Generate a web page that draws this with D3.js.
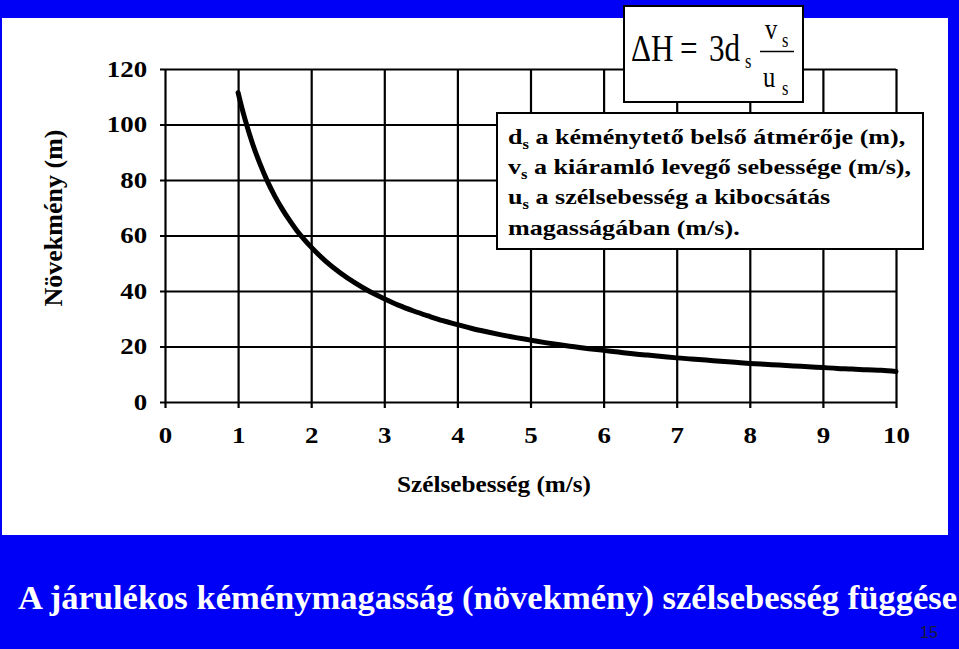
<!DOCTYPE html>
<html>
<head>
<meta charset="utf-8">
<script src="https://cdn.jsdelivr.net/npm/d3@7"></script>
<style>
  body { margin: 0; background: #0000f6; }
  svg { display: block; }
</style>
</head>
<body>
<script>
// wind speed (m/s) and plume rise (m)
const windSpeed = [1.0, 1.05, 1.1, 1.2, 1.3, 1.4, 1.5, 1.6, 1.7, 1.8, 1.9,
  2.0, 2.2, 2.4, 2.6, 2.8, 3.0, 3.2, 3.4, 3.6, 3.8, 4.0, 4.2, 4.4, 4.6, 4.8,
  5.0, 5.2, 5.4, 5.6, 5.8, 6.0, 6.2, 6.4, 6.6, 6.8, 7.0, 7.2, 7.4, 7.6, 7.8,
  8.0, 8.2, 8.4, 8.6, 8.8, 9.0, 9.2, 9.4, 9.6, 9.8, 10.0];
const heightGain = [111.5, 106.2, 101.4, 92.9, 85.8, 79.6, 74.3, 69.7, 65.6, 61.9, 58.7,
  55.8, 50.7, 46.5, 42.9, 39.8, 37.2, 34.8, 32.8, 31.0, 29.3, 27.9, 26.5, 25.3, 24.2, 23.2,
  22.3, 21.4, 20.6, 19.9, 19.2, 18.6, 18.0, 17.4, 16.9, 16.4, 15.9, 15.5, 15.1, 14.7, 14.3,
  13.9, 13.6, 13.3, 13.0, 12.7, 12.4, 12.1, 11.9, 11.6, 11.4, 11.0];

const xTicks = [0, 1, 2, 3, 4, 5, 6, 7, 8, 9, 10];
const yTicks = [0, 20, 40, 60, 80, 100, 120];

const xTitle = "Szélsebesség (m/s)";
const yTitle = "Növekmény (m)";
const slideTitle = "A járulékos kéménymagasság (növekmény) szélsebesség függése";
const pageNo = "15";

// [symbol, subscript, rest of line]
const noteLines = [
  ["d", "s", " a kéménytető belső átmérője (m),"],
  ["v", "s", " a kiáramló levegő sebessége (m/s),"],
  ["u", "s", " a szélsebesség a kibocsátás"],
  ["magasságában (m/s).", "", ""]
];

const w = 959;
const h = 649;
const serif = "'Liberation Serif', 'Times New Roman', serif";

const svg = d3.select("body")
  .append("svg")
  .attr("width", w)
  .attr("height", h);

svg.append("rect")
  .attr("width", w)
  .attr("height", h)
  .attr("fill", "#0000f6");

// white chart panel
svg.append("rect")
  .attr("x", 2)
  .attr("y", 18)
  .attr("width", 946)
  .attr("height", 517)
  .attr("fill", "#fff");

const x = d3.scaleLinear().domain([0, 10]).range([165, 896]);
const y = d3.scaleLinear().domain([0, 120]).range([402, 69]);

// y grid lines + labels
const yAxis = svg.append("g")
  .attr("transform", "translate(160,0)")
  .call(d3.axisLeft(y).tickValues(yTicks).tickSize(-736).tickPadding(11));

// x grid lines + labels
const xAxis = svg.append("g")
  .attr("transform", "translate(0,408)")
  .call(d3.axisBottom(x).tickValues(xTicks).tickSize(-339));

[yAxis, xAxis].forEach(ax => {
  ax.select(".domain").remove();
  ax.attr("font-family", serif)
    .attr("font-size", 23)
    .attr("font-weight", "bold");
  ax.selectAll("line")
    .attr("stroke", "#000")
    .attr("stroke-width", 2.2);
  ax.selectAll("text")
    .attr("fill", "#000")
    .attr("transform", "scale(1.17,1)");
});

xAxis.selectAll("text")
  .attr("y", 35)
  .attr("dy", 0);

// the curve
const line = d3.line()
  .x((d, i) => x(windSpeed[i]))
  .y(d => y(d))
  .curve(d3.curveMonotoneX);

svg.append("path")
  .datum(heightGain)
  .attr("d", line)
  .attr("fill", "none")
  .attr("stroke", "#000")
  .attr("stroke-width", 5)
  .attr("stroke-linejoin", "round")
  .attr("stroke-linecap", "round");

// axis titles
svg.append("text")
  .attr("transform", "translate(62,218) rotate(-90)")
  .attr("text-anchor", "middle")
  .attr("font-family", serif)
  .attr("font-weight", "bold")
  .attr("font-size", 26)
  .text(yTitle);

svg.append("text")
  .attr("x", 397)
  .attr("y", 492)
  .attr("font-family", serif)
  .attr("font-weight", "bold")
  .attr("font-size", 23)
  .attr("textLength", 194)
  .attr("lengthAdjust", "spacingAndGlyphs")
  .text(xTitle);

// formula box
const fb = svg.append("g");
fb.append("rect")
  .attr("x", 624)
  .attr("y", 6)
  .attr("width", 179)
  .attr("height", 96)
  .attr("fill", "#fff")
  .attr("stroke", "#000")
  .attr("stroke-width", 2);

function mathText(tx, ty, str, size) {
  fb.append("text")
    .attr("transform", "translate(" + tx + "," + ty + ") scale(0.82,1)")
    .attr("font-family", serif)
    .attr("font-size", size)
    .text(str);
}
mathText(631, 61, "ΔH", 38);
mathText(680, 61, "=", 38);
mathText(709, 61, "3d", 38);
mathText(745, 68, "s", 20);
mathText(765, 38.5, "v", 30);
mathText(782, 47, "s", 20);
mathText(763, 87, "u", 30);
mathText(782, 95, "s", 20);
fb.append("line")
  .attr("x1", 760)
  .attr("x2", 794)
  .attr("y1", 51.5)
  .attr("y2", 51.5)
  .attr("stroke", "#000")
  .attr("stroke-width", 1.5);

// explanation box
const nb = svg.append("g");
nb.append("rect")
  .attr("x", 497)
  .attr("y", 113)
  .attr("width", 426)
  .attr("height", 136)
  .attr("fill", "#fff")
  .attr("stroke", "#000")
  .attr("stroke-width", 2);

const baselines = [143.5, 173.5, 204, 235];
noteLines.forEach((ln, i) => {
  const t = nb.append("text")
    .attr("transform", "translate(508," + baselines[i] + ") scale(1.185,1)")
    .attr("font-family", serif)
    .attr("font-weight", "bold")
    .attr("font-size", 22);
  t.append("tspan").text(ln[0]);
  if (ln[1]) {
    t.append("tspan").attr("font-size", 14).attr("dy", 5).text(ln[1]);
    t.append("tspan").attr("dy", -5).text(ln[2]);
  }
});

// slide title and page number
svg.append("text")
  .attr("x", 18)
  .attr("y", 609)
  .attr("fill", "#fff")
  .attr("font-family", serif)
  .attr("font-weight", "bold")
  .attr("font-size", 33)
  .attr("textLength", 939)
  .attr("lengthAdjust", "spacingAndGlyphs")
  .text(slideTitle);

svg.append("text")
  .attr("x", 920)
  .attr("y", 638)
  .attr("fill", "#1c1c3c")
  .attr("font-family", "'Liberation Sans', Arial, sans-serif")
  .attr("font-size", 16)
  .text(pageNo);
</script>
</body>
</html>
